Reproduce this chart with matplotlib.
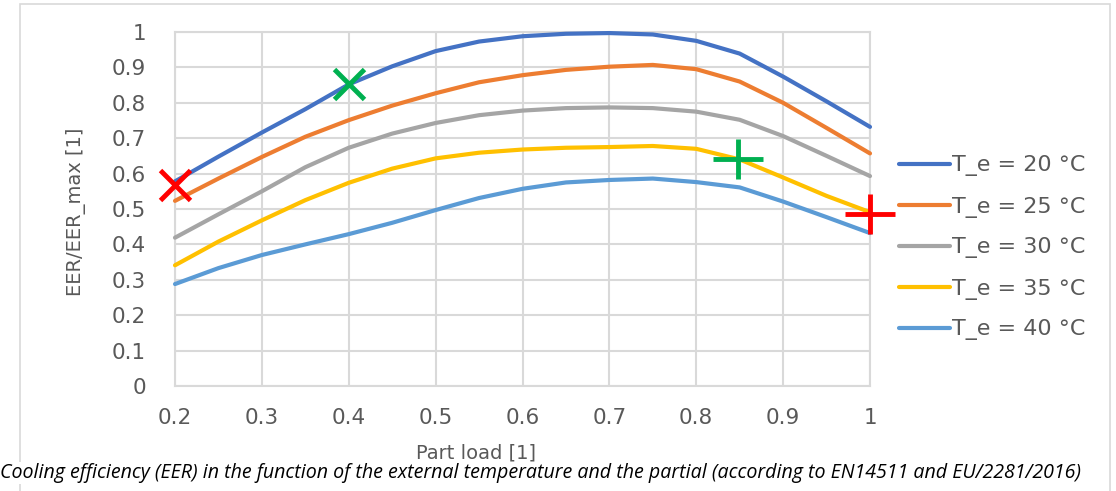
import matplotlib
matplotlib.use("Agg")
import matplotlib.pyplot as plt
from matplotlib.path import Path
from matplotlib.patches import Rectangle

# ---- data ----
part_load = [0.20, 0.25, 0.30, 0.35, 0.40, 0.45, 0.50, 0.55, 0.60, 0.65,
             0.70, 0.75, 0.80, 0.85, 0.90, 0.95, 1.00]
eer_20 = [0.578, 0.648, 0.716, 0.782, 0.852, 0.903, 0.946, 0.973, 0.988, 0.995,
          0.997, 0.993, 0.975, 0.939, 0.874, 0.804, 0.732]
eer_25 = [0.523, 0.586, 0.647, 0.704, 0.751, 0.792, 0.827, 0.858, 0.878, 0.893,
          0.902, 0.907, 0.895, 0.860, 0.800, 0.729, 0.657]
eer_30 = [0.419, 0.485, 0.550, 0.618, 0.673, 0.713, 0.743, 0.765, 0.778, 0.785,
          0.787, 0.785, 0.775, 0.752, 0.706, 0.650, 0.593]
eer_35 = [0.341, 0.408, 0.468, 0.525, 0.574, 0.614, 0.643, 0.659, 0.668, 0.673,
          0.675, 0.678, 0.670, 0.640, 0.589, 0.537, 0.491]
eer_40 = [0.288, 0.333, 0.370, 0.400, 0.429, 0.461, 0.497, 0.531, 0.557, 0.575,
          0.582, 0.586, 0.576, 0.561, 0.521, 0.477, 0.432]
series_labels = ["T_e = 20 °C", "T_e = 25 °C", "T_e = 30 °C", "T_e = 35 °C", "T_e = 40 °C"]

x_marks_x = [0.2, 0.4]
x_marks_y = [0.568, 0.852]
plus_marks_x = [0.848, 1.0]
plus_marks_y = [0.640, 0.486]

x_ticks = [0.2, 0.3, 0.4, 0.5, 0.6, 0.7, 0.8, 0.9, 1.0]
x_ticklabels = ["0.2", "0.3", "0.4", "0.5", "0.6", "0.7", "0.8", "0.9", "1"]
y_ticks = [0, 0.1, 0.2, 0.3, 0.4, 0.5, 0.6, 0.7, 0.8, 0.9, 1.0]
y_ticklabels = ["0", "0.1", "0.2", "0.3", "0.4", "0.5", "0.6", "0.7", "0.8", "0.9", "1"]

x_title = "Part load [1]"
y_title = "EER/EER_max [1]"
caption = ("Cooling efficiency (EER) in the function of the external temperature "
           "and the partial (according to EN14511 and EU/2281/2016)")

# ---- styling ----
colors = ["#4472C4", "#ED7D31", "#A5A5A5", "#FFC000", "#5B9BD5"]
grid_c = "#D9D9D9"
text_c = "#595959"
plt.rcParams['font.family'] = ['DejaVu Sans']

W, H = 1116, 491
fig = plt.figure(figsize=(W / 100, H / 100), dpi=100)
ax = fig.add_axes([175 / W, 1 - 386 / H, (870 - 175) / W, (386 - 32) / H])

# outer chart border
fig.patches.append(Rectangle((20 / W, -0.05), (1110 - 20) / W, 1.05 - 4 / H,
                             transform=fig.transFigure, fill=False,
                             edgecolor=grid_c, lw=1.2, zorder=0))

for ys, c, lab in zip([eer_20, eer_25, eer_30, eer_35, eer_40], colors, series_labels):
    ax.plot(part_load, ys, color=c, lw=3.0, label=lab, solid_capstyle='round',
            solid_joinstyle='round', zorder=3, clip_on=False)

plus_path = Path([(-1.25, 0), (1.25, 0), (0, -1.0), (0, 1.0)],
                 [Path.MOVETO, Path.LINETO, Path.MOVETO, Path.LINETO])
ax.plot(x_marks_x[0], x_marks_y[0], marker='x', ms=22, mew=3.5, color='#FF0000',
        zorder=5, clip_on=False, ls='none')
ax.plot(x_marks_x[1], x_marks_y[1], marker='x', ms=22, mew=3.5, color='#00B050',
        zorder=5, clip_on=False, ls='none')
ax.plot(plus_marks_x[0], plus_marks_y[0], marker=plus_path, ms=36, mew=3.5,
        color='#00B050', zorder=5, clip_on=False, ls='none')
ax.plot(plus_marks_x[1], plus_marks_y[1], marker=plus_path, ms=36, mew=3.5,
        color='#FF0000', zorder=5, clip_on=False, ls='none')

ax.set_xlim(0.2, 1.0)
ax.set_ylim(0, 1.0)
ax.set_xticks(x_ticks)
ax.set_xticklabels(x_ticklabels)
ax.set_yticks(y_ticks)
ax.set_yticklabels(y_ticklabels)
ax.tick_params(axis='both', length=0, labelsize=15.5, labelcolor=text_c)
ax.tick_params(axis='y', pad=21)
ax.tick_params(axis='x', pad=16)
ax.grid(True, color=grid_c, lw=1.5, zorder=0)
ax.set_axisbelow(True)
for s in ax.spines.values():
    s.set_color(grid_c)
    s.set_linewidth(1.5)

fig.text(76 / W, 1 - 212 / H, y_title, rotation=90, ha='center', va='center',
         fontsize=14, color=text_c)
fig.text(476 / W, 1 - 453 / H, x_title, ha='center', va='center',
         fontsize=14, color=text_c)

leg = ax.legend(loc='center left', bbox_to_anchor=(890 / W, 1 - 248 / H),
                bbox_transform=fig.transFigure, frameon=False, fontsize=16,
                handlelength=2.3, handletextpad=0.1, labelspacing=0.9,
                borderaxespad=0)
for t in leg.get_texts():
    t.set_color(text_c)

fig.text(0.0, 1 - 473 / H, caption, ha='left', va='center', fontsize=14.15,
         family=['Open Sans', 'DejaVu Sans'], style='italic', color='black',
         bbox=dict(facecolor='white', edgecolor='none', pad=1.0))

fig.savefig("out.png", dpi=100)
